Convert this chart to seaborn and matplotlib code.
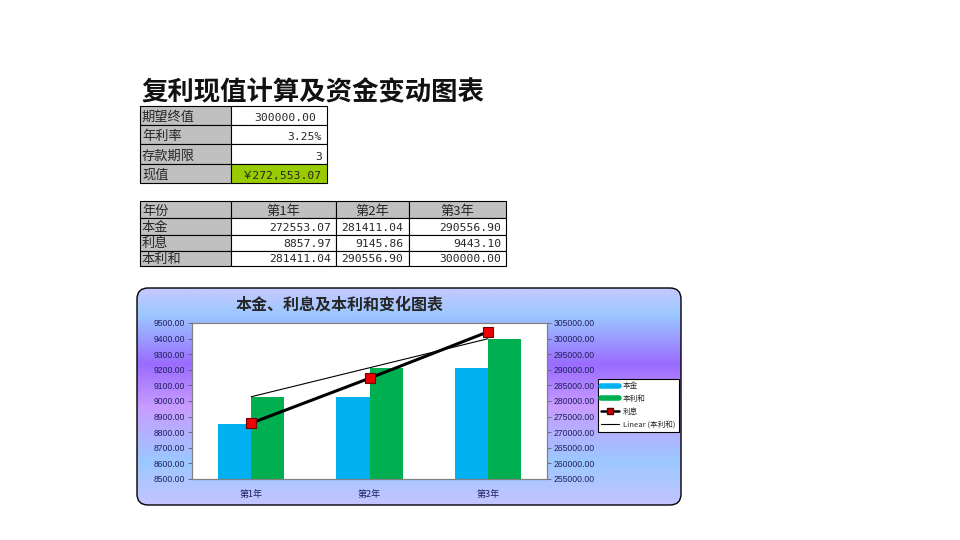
# -*- coding: utf-8 -*-
"""
复利现值计算及资金变动图表 - 表格 + 本金/利息/本利和组合图
"""

import numpy as np
import pandas as pd
import matplotlib
matplotlib.use('Agg')
import matplotlib.pyplot as plt
from matplotlib.patches import Rectangle, FancyBboxPatch
from matplotlib.lines import Line2D
from matplotlib.colors import LinearSegmentedColormap
import seaborn as sns

# 數據
summary_labels = ['期望终值', '年利率', '存款期限', '现值']
summary_values = ['300000.00', '3.25%', '3', '￥272,553.07']

years = ['第1年', '第2年', '第3年']
principal = [272553.07, 281411.04, 290556.90]   # 本金
interest = [8857.97, 9145.86, 9443.10]          # 利息
total = [281411.04, 290556.90, 300000.00]       # 本利和

left_ticks = np.arange(8500, 9501, 100)
right_ticks = np.arange(255000, 305001, 5000)

# 樣式
sns.set_style('white')
plt.rcParams['font.family'] = ['Noto Sans CJK SC', 'DejaVu Sans']
plt.rcParams['axes.unicode_minus'] = False

BLUE = '#00b0f0'
GREEN = '#00b050'
GRAY = '#c0c0c0'
LIME = '#99cc00'
NAVY = '#1f1f5c'
MONO = ['DejaVu Sans Mono', 'Noto Sans CJK SC']
ARIAL = ['Liberation Sans', 'DejaVu Sans']

fig = plt.figure(figsize=(9.6, 5.4), dpi=100)
fig.patch.set_facecolor('white')

# 像素座標畫布（表格、背景）
bg = fig.add_axes([0, 0, 1, 1])
bg.set_xlim(0, 960)
bg.set_ylim(540, 0)
bg.axis('off')
bg.set_zorder(0)

# 標題
bg.text(141, 100, '复利现值计算及资金变动图表', fontsize=19, fontweight='bold',
        ha='left', va='baseline', color='#111111')

def cell(x0, x1, y0, y1, face):
    bg.add_patch(Rectangle((x0, y0), x1 - x0, y1 - y0, facecolor=face,
                           edgecolor='black', linewidth=0.8))

# 表1
rows1 = [106, 125, 144, 163.5, 182.5]
c1 = [140, 231, 326.5]
for i, (lab, val) in enumerate(zip(summary_labels, summary_values)):
    y0, y1 = rows1[i], rows1[i + 1]
    cell(c1[0], c1[1], y0, y1, GRAY)
    cell(c1[1], c1[2], y0, y1, LIME if i == 3 else 'white')
    yb = y1 - 4
    bg.text(c1[0] + 2, yb, lab, fontsize=9.5, ha='left', va='baseline')
    xr = 316 if i == 0 else 322
    bg.text(xr, yb, val, fontsize=8.2, ha='right', va='baseline', family=MONO)

# 表2
rows2 = [201, 218, 234.5, 250.5, 266]
c2 = [140, 231, 336, 408.5, 506]
row_labels = ['年份', '本金', '利息', '本利和']
row_data = [None, principal, interest, total]
for i in range(4):
    y0, y1 = rows2[i], rows2[i + 1]
    yb = y1 - 3.5
    for j in range(4):
        face = GRAY if (i == 0 or j == 0) else 'white'
        cell(c2[j], c2[j + 1], y0, y1, face)
    bg.text(c2[0] + 2, yb, row_labels[i], fontsize=9.5, ha='left', va='baseline')
    for j in range(3):
        if i == 0:
            bg.text((c2[j + 1] + c2[j + 2]) / 2, yb, years[j], fontsize=9.5,
                    ha='center', va='baseline')
        else:
            bg.text(c2[j + 2] - 5, yb, f'{row_data[i][j]:.2f}', fontsize=8.2,
                    ha='right', va='baseline', family=MONO)

# 圖表背景漸層
grad = LinearSegmentedColormap.from_list('chartbg', [
    (0.00, '#c6c8ff'), (0.12, '#9cc8ff'), (0.35, '#9a6cff'),
    (0.55, '#c89cff'), (0.80, '#9cc8ff'), (1.00, '#c4c4ff')])
box = FancyBboxPatch((137, 288), 544, 217, boxstyle='round,pad=0,rounding_size=11',
                     facecolor='none', edgecolor='black', linewidth=1.0, zorder=3)
bg.add_patch(box)
im = bg.imshow(np.linspace(0, 1, 256).reshape(-1, 1), cmap=grad, aspect='auto',
               extent=[137, 681, 505, 288], zorder=1)
im.set_clip_path(box)

bg.text(340, 305, '本金、利息及本利和变化图表', fontsize=11.5, fontweight='bold',
        ha='center', va='center')

# 圖表區
ax = fig.add_axes([192 / 960, 1 - 479 / 540, (547 - 192) / 960, (479 - 323) / 540])
ax.set_zorder(1)
ax.set_facecolor('white')

bars = pd.DataFrame({
    '年份': years * 2,
    '金额': principal + total,
    '系列': ['本金'] * 3 + ['本利和'] * 3,
})
sns.barplot(data=bars, x='年份', y='金额', hue='系列', palette=[BLUE, GREEN],
            width=0.56, errorbar=None, saturation=1, legend=False, linewidth=0,
            ax=ax)

# 本利和線性趨勢線
xs = np.arange(len(years))
slope, intercept = np.polyfit(xs + 1, total, 1)
ax.plot(xs, slope * (xs + 1) + intercept, color='black', linewidth=0.8, zorder=5)

ax.set_ylim(255000, 305000)
ax.set_yticks(right_ticks)
ax.set_yticklabels([f'{v:.2f}' for v in right_ticks])
ax.set_xlim(-0.5, 2.5)
ax.set_xlabel('')
ax.set_ylabel('')

ax2 = ax.twinx()
ax2.set_zorder(2)
ax2.patch.set_visible(False)
sns.lineplot(x=xs, y=interest, color='black', linewidth=2.2, marker='s',
             markersize=6.5, markerfacecolor='#ee0000', markeredgecolor='#700000',
             markeredgewidth=0.8, ax=ax2)
ax2.set_ylim(8500, 9500)
ax2.set_yticks(left_ticks)
ax2.set_yticklabels([f'{v:.2f}' for v in left_ticks])
ax2.set_xlim(-0.5, 2.5)

# twinx 會把原軸刻度放回左側，這裡交換
ax.yaxis.tick_right()
ax2.yaxis.tick_left()

for a in (ax, ax2):
    for s in a.spines.values():
        s.set_color('#808080')
        s.set_linewidth(0.8)
    a.tick_params(axis='y', labelsize=6.2, labelcolor=NAVY, length=3, width=0.6,
                  color='#606060', pad=2)
    for t in a.get_yticklabels():
        t.set_family(ARIAL)

ax.set_xticks(xs)
ax.set_xticklabels(years)
ax.tick_params(axis='x', length=0, labelsize=6.5, labelcolor=NAVY, pad=8)
ax.set_xticks([0.5, 1.5], minor=True)
ax.tick_params(axis='x', which='minor', length=3, width=0.6, color='#606060')
ax2.tick_params(axis='x', bottom=False, labelbottom=False)

# 趨勢線公式
bg.text(360, 338, f'y = {slope:.4f}x + {intercept:.4f}', fontsize=6.5,
        family=ARIAL, ha='left', va='center', zorder=6)

# 圖例
handles = [
    Line2D([], [], color=BLUE, linewidth=4),
    Line2D([], [], color=GREEN, linewidth=4),
    Line2D([], [], color='black', linewidth=1.8, marker='s', markersize=5,
           markerfacecolor='#cc0000', markeredgecolor='#600000'),
    Line2D([], [], color='black', linewidth=0.8),
]
labels = ['本金', '本利和', '利息', 'Linear (本利和)']
leg = fig.legend(handles, labels, loc='upper left',
                 bbox_to_anchor=(598 / 960, 1 - 379 / 540), fontsize=5.5,
                 frameon=True, fancybox=False, edgecolor='black', framealpha=1,
                 handlelength=2.3, handletextpad=0.5, borderpad=0.45,
                 labelspacing=0.6, borderaxespad=0)
leg.get_frame().set_linewidth(0.8)
leg.set_zorder(10)

fig.savefig('out.png', dpi=100)
